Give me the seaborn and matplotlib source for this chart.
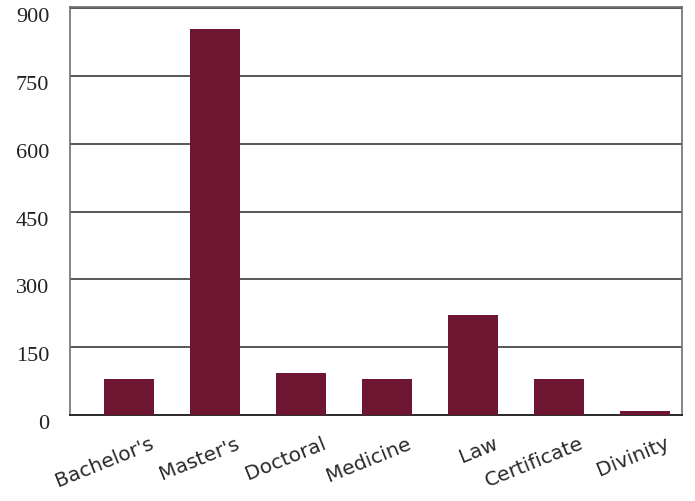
import matplotlib
matplotlib.use("Agg")
import matplotlib.pyplot as plt
import matplotlib.transforms as mtransforms
import seaborn as sns
import pandas as pd

# data
degrees = ["Bachelor's", "Master's", "Doctoral", "Medicine", "Law", "Certificate", "Divinity"]
counts = [80, 855, 93, 80, 221, 80, 8]
yticks = [0, 150, 300, 450, 600, 750, 900]

df = pd.DataFrame({"degree": degrees, "count": counts})

sns.set_theme(style="white")
plt.rcParams['font.family'] = ['DejaVu Sans']

fig = plt.figure(figsize=(6.95, 5.02), dpi=100)
ax = fig.add_axes([0.1007, 0.1713, 0.8806, 0.8127])

sns.barplot(data=df, x="degree", y="count", color="#6E1631", saturation=1,
            width=0.58, linewidth=0, ax=ax, zorder=3)

ax.set_ylim(0, 903)
ax.set_xlim(-0.69, 6.43)
ax.set_yticks(yticks)
ax.yaxis.grid(True, color="#3a3a3a", linewidth=1.2, zorder=0)
ax.set_axisbelow(True)
ax.set_xlabel("")
ax.set_ylabel("")

for side in ["left", "top", "right"]:
    ax.spines[side].set_color("#707070")
    ax.spines[side].set_linewidth(1.2)
ax.spines["bottom"].set_color("#2a2a2a")
ax.spines["bottom"].set_linewidth(1.4)

ax.tick_params(axis="both", length=0)
ax.tick_params(axis="y", pad=15)
ax.tick_params(axis="x", pad=13)

# y labels sit a little below their grid lines
ydown = mtransforms.ScaledTranslation(0, -6 / 100, fig.dpi_scale_trans)
for lbl in ax.get_yticklabels():
    lbl.set_fontfamily("Liberation Serif")
    lbl.set_fontsize(16)
    lbl.set_color("#222222")
    lbl.set_transform(lbl.get_transform() + ydown)

xshift = mtransforms.ScaledTranslation(20 / 100, 0, fig.dpi_scale_trans)
for lbl in ax.get_xticklabels():
    lbl.set_rotation(22)
    lbl.set_rotation_mode("anchor")
    lbl.set_ha("right")
    lbl.set_va("top")
    lbl.set_fontsize(14.5)
    lbl.set_color("#2a2a2a")
    lbl.set_transform(lbl.get_transform() + xshift)

fig.savefig("out.png", dpi=100)
